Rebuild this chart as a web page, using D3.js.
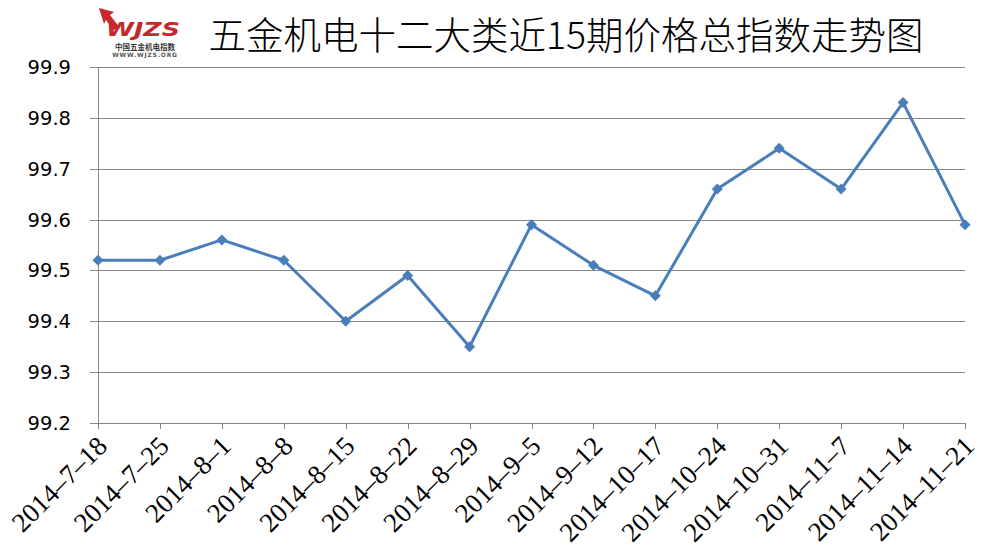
<!DOCTYPE html>
<html><head><meta charset="utf-8">
<script src="https://cdn.jsdelivr.net/npm/d3@7/dist/d3.min.js"></script>
<style>body{margin:0;background:#fff;}svg{display:block;}</style>
</head><body>
<svg id="c" width="996" height="557"></svg>
<script>
const categories = ["2014-7-18","2014-7-25","2014-8-1","2014-8-8","2014-8-15","2014-8-22","2014-8-29","2014-9-5","2014-9-12","2014-10-17","2014-10-24","2014-10-31","2014-11-7","2014-11-14","2014-11-21"];
const values = [99.52,99.52,99.56,99.52,99.40,99.49,99.35,99.59,99.51,99.45,99.66,99.74,99.66,99.83,99.59];
const yTicks = [99.2,99.3,99.4,99.5,99.6,99.7,99.8,99.9];
const title = "五金机电十二大类近15期价格总指数走势图";

const svg = d3.select("#c");
const L = 98, R = 965, T = 67, B = 423;
const x = d3.scalePoint().domain(categories).range([L, R]);
const y = d3.scaleLinear().domain([99.2, 99.9]).range([B, T]);
const grey = "#868686";

svg.append("g").selectAll("line").data(yTicks).join("line")
  .attr("x1", L - 8).attr("x2", R)
  .attr("y1", d => Math.round(y(d)) + 0.5).attr("y2", d => Math.round(y(d)) + 0.5)
  .attr("stroke", grey).attr("stroke-width", 1);

svg.append("line").attr("x1", L + 0.5).attr("x2", L + 0.5).attr("y1", T).attr("y2", B + 6)
  .attr("stroke", grey);

svg.append("g").selectAll("line").data(categories).join("line")
  .attr("x1", d => Math.round(x(d)) + 0.5).attr("x2", d => Math.round(x(d)) + 0.5)
  .attr("y1", B).attr("y2", B + 6).attr("stroke", grey);

svg.append("g").selectAll("text").data(yTicks).join("text")
  .attr("x", 71).attr("y", d => y(d)).attr("dy", "0.36em")
  .attr("text-anchor", "end")
  .attr("font-family", "DejaVu Sans, Verdana, sans-serif").attr("font-size", 19.5)
  .attr("fill", "#000").text(d => d.toFixed(1));

svg.append("g").selectAll("text").data(categories).join("text")
  .attr("transform", d => `translate(${x(d) + 4},${B + 18}) rotate(-45)`)
  .attr("text-anchor", "end").attr("dy", "0.35em")
  .attr("font-family", "Liberation Serif, Times New Roman, serif").attr("font-size", 27)
  .attr("fill", "#000").text(d => d.replace(/-/g, "–"));

const line = d3.line().x((d, i) => x(categories[i])).y(d => y(d));
svg.append("path").datum(values).attr("d", line)
  .attr("fill", "none").attr("stroke", "#4a7ebb").attr("stroke-width", 3).attr("stroke-linejoin", "round");

svg.append("g").selectAll("path").data(values).join("path")
  .attr("transform", (d, i) => `translate(${x(categories[i])},${y(d)})`)
  .attr("d", "M0,-5.5L5.5,0L0,5.5L-5.5,0Z").attr("fill", "#4a7ebb");

svg.append("text").attr("x", 566).attr("y", 49).attr("text-anchor", "middle")
  .attr("font-family", "Noto Sans CJK SC, sans-serif").attr("font-size", 37.5).attr("font-weight", 300)
  .attr("fill", "#000").text(title);

const logo = svg.append("g");
logo.append("path").attr("d", "M104,24 L99,8 L114,12 L110,15 L120,28 L113,30 L106,20 Z").attr("fill", "#c8282d");
logo.append("text").attr("x", 106).attr("y", 36)
  .attr("font-family", "DejaVu Sans, sans-serif").attr("font-weight", "bold").attr("font-style", "italic")
  .attr("font-size", 19).attr("fill", "#c8282d")
  .attr("textLength", 74).attr("lengthAdjust", "spacingAndGlyphs").text("WJZS");
logo.append("text").attr("x", 145).attr("y", 49.5).attr("text-anchor", "middle")
  .attr("font-family", "Noto Sans CJK SC, sans-serif").attr("font-weight", "bold")
  .attr("font-size", 7.5).attr("fill", "#333").text("中国五金机电指数");
logo.append("text").attr("x", 145).attr("y", 57).attr("text-anchor", "middle")
  .attr("font-family", "DejaVu Sans, sans-serif").attr("font-weight", "bold")
  .attr("font-size", 6).attr("fill", "#555").attr("letter-spacing", 0.8).text("WWW.WJZS.ORG");
</script>
</body></html>
